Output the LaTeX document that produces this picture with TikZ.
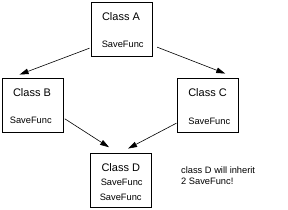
\documentclass[tikz,border=0pt]{standalone}
\usepackage{fontspec}
\setmainfont{Liberation Sans}
\usetikzlibrary{arrows.meta}
\begin{document}
\begin{tikzpicture}[x=1pt,y=-1pt,
  cls/.style={draw,line width=0.9pt,minimum width=60.6pt,minimum height=54pt,inner sep=0pt},
  big/.style={font=\fontsize{11}{13}\selectfont,inner sep=0pt},
  small/.style={font=\fontsize{9.3}{11}\selectfont,inner sep=0pt},
  arr/.style={line width=0.6pt,-{Triangle[length=9pt,width=5.5pt]}}]
\useasboundingbox (0,0) rectangle (288,209);
\node[cls] (A) at (122,29.7) {};
\node[cls] (B) at (33,105.7) {};
\node[cls] (C) at (207.8,105.7) {};
\node[cls] (D) at (121.2,180.3) {};
\node[big] (At) at (121,16.7) {Class A};
\node[small] (As) at (122.7,44) {SaveFunc};
\node[big] (Bt) at (32,92.7) {Class B};
\node[small] (Bs) at (30.8,120) {SaveFunc};
\node[big] (Ct) at (207.5,92.7) {Class C};
\node[small] (Cs) at (209.3,121.7) {SaveFunc};
\node[big] (Dt) at (120.8,167.3) {Class D};
\node[small] (Ds1) at (121.7,182.7) {SaveFunc};
\node[small] (Ds2) at (120.7,197.7) {SaveFunc};
\node[small,align=left,anchor=north west,font=\fontsize{9.3}{11.5}\selectfont] (note) at (181,166.5) {class D will inherit\\2 SaveFunc!};
\draw[arr] ([xshift=-1.7pt,yshift=9pt]A.south west) -- ([xshift=17.3pt,yshift=3.7pt]B.north west);
\draw[arr] ([xshift=4.4pt,yshift=10pt]A.south east) -- ([xshift=-13.3pt,yshift=4.7pt]C.north east);
\draw[arr] ([xshift=1pt,yshift=14.4pt]B.south east) -- ([xshift=18.6pt,yshift=5.6pt]D.north west);
\draw[arr] ([xshift=-0.6pt,yshift=10pt]C.south west) -- ([xshift=37.6pt,yshift=4.3pt]D.north west);
\end{tikzpicture}
\end{document}
